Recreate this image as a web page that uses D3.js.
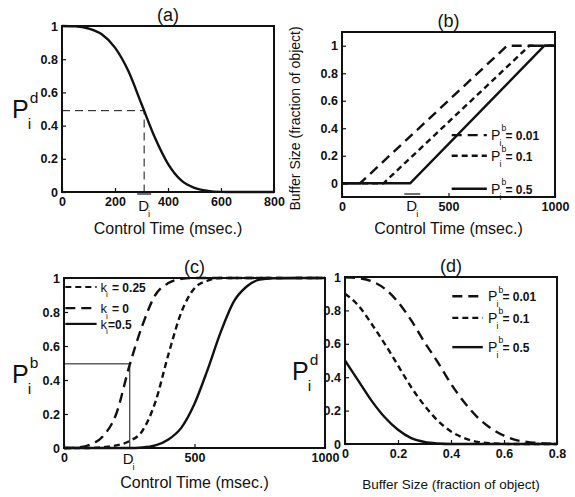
<!DOCTYPE html>
<html>
<head>
<meta charset="utf-8">
<script src="https://cdn.jsdelivr.net/npm/d3@7"></script>
<style>
  body { margin: 0; background: #fff; }
  text { font-family: "Liberation Sans", Arial, sans-serif; fill: #111; }
</style>
</head>
<body>
<div id="fig"></div>
<script>
// ---- data ----
// (a) decay probability vs control time
var aTime = [0, 50, 100, 150, 200, 250, 300, 350, 400, 450, 500, 550, 600, 650, 700, 800];
var aPd   = [1, 0.998, 0.985, 0.95, 0.87, 0.73, 0.53, 0.33, 0.17, 0.07, 0.025, 0.007, 0.001, 0, 0, 0];
var aD = 310, aHalf = 0.49;

// (b) buffer size vs control time
var bTimeLong  = [0, 85, 775, 1000];
var bTimeShort = [0, 195, 880, 1000];
var bTimeSolid = [0, 320, 950, 1000];
var bBuf = [0, 0, 1, 1];
var bLabels = ["0.01", "0.1", "0.5"];
var bD = 330;

// (c) P_i^b vs control time for k_i
var cTime = [0, 50, 100, 150, 200, 250, 300, 350, 400, 450, 500, 550, 600, 650, 700, 750, 800, 900, 1000];
var cK0   = [0, 0.003, 0.02, 0.07, 0.2, 0.48, 0.72, 0.9, 0.97, 0.995, 1, 1, 1, 1, 1, 1, 1, 1, 1];
var cK25  = [0, 0, 0, 0.005, 0.015, 0.04, 0.1, 0.27, 0.55, 0.8, 0.94, 0.985, 1, 1, 1, 1, 1, 1, 1];
var cK50  = [0, 0, 0, 0, 0, 0, 0.003, 0.015, 0.05, 0.12, 0.26, 0.46, 0.68, 0.86, 0.95, 0.99, 0.998, 1, 1];
var cLabels = ["0.25", "0", "0.5"];
var cD = 252, cHalf = 0.495;

// (d) P_i^d vs buffer size
var dBuf   = [0, 0.05, 0.1, 0.15, 0.2, 0.25, 0.3, 0.35, 0.4, 0.45, 0.5, 0.55, 0.6, 0.65, 0.7, 0.75, 0.8];
var dP001  = [0.998, 0.993, 0.975, 0.93, 0.85, 0.74, 0.61, 0.49, 0.36, 0.25, 0.16, 0.095, 0.05, 0.022, 0.01, 0.004, 0.002];
var dP01   = [0.9, 0.83, 0.72, 0.6, 0.47, 0.34, 0.23, 0.14, 0.075, 0.035, 0.013, 0.004, 0.001, 0, 0, 0, 0];
var dP05   = [0.5, 0.38, 0.26, 0.16, 0.085, 0.035, 0.012, 0.003, 0, 0, 0, 0, 0, 0, 0, 0, 0];
var dLabels = ["0.01", "0.1", "0.5"];

var LONG = "10,6", SHORT = "6,4";

var svg = d3.select("#fig").append("svg")
    .attr("width", 575)
    .attr("height", 497);

function zip(xs, ys) { return xs.map(function(v, i) { return [v, ys[i]]; }); }

// builds one framed panel with MATLAB style inward ticks
function panel(o) {
  var x = d3.scaleLinear().domain(o.xDom).range([o.left, o.right]);
  var y = d3.scaleLinear().domain(o.yDom).range([o.bottom, o.top]);
  var g = svg.append("g");

  var xa = g.append("g")
      .attr("transform", "translate(0," + o.bottom + ")")
      .call(d3.axisBottom(x).tickValues(o.xTicks).tickSize(-4).tickPadding(5).tickFormat(d3.format("")));
  var ya = g.append("g")
      .attr("transform", "translate(" + o.left + ",0)")
      .call(d3.axisLeft(y).tickValues(o.yTicks).tickSize(-4).tickPadding(4).tickFormat(d3.format("")));
  [xa, ya].forEach(function(a) {
    a.select(".domain").remove();
    a.selectAll(".tick line").attr("stroke", "#111").attr("stroke-width", 1.2);
    a.selectAll("text").style("font-size", "12.5px").style("font-weight", "bold")
      .style("font-family", "'Liberation Sans', Arial, sans-serif").attr("fill", "#111");
  });

  g.append("rect")
      .attr("x", o.left).attr("y", o.top)
      .attr("width", o.right - o.left).attr("height", o.bottom - o.top)
      .attr("fill", "none").attr("stroke", "#111").attr("stroke-width", 2);

  g.append("text")
      .attr("x", (o.left + o.right) / 2).attr("y", o.top - 5)
      .attr("text-anchor", "middle")
      .style("font-size", "18px")
      .text(o.title);

  g.append("text")
      .attr("x", (o.left + o.right) / 2).attr("y", o.xLabelY)
      .attr("text-anchor", "middle")
      .style("font-size", o.xLabelSize + "px")
      .text(o.xLabel);

  return { g: g, x: x, y: y };
}

function curve(p, pts, dash, smooth) {
  var line = d3.line()
      .x(function(d) { return p.x(d[0]); })
      .y(function(d) { return p.y(d[1]); });
  if (smooth) line.curve(d3.curveMonotoneX);
  p.g.append("path")
      .datum(pts)
      .attr("d", line)
      .attr("fill", "none")
      .attr("stroke", "#111")
      .attr("stroke-width", 2.4)
      .attr("stroke-dasharray", dash);
}

// "P" with stacked superscript and subscript
function symbol(g, x, y, base, sup, sub, size) {
  var t = g.append("text").attr("x", x).attr("y", y).style("font-size", size + "px").text(base);
  var w = t.node().getComputedTextLength();
  var s = size * 0.62;
  if (sup) g.append("text").attr("x", x + w + 1).attr("y", y - size * 0.62).style("font-size", s + "px").text(sup);
  if (sub) g.append("text").attr("x", x + w - 1).attr("y", y + size * 0.42).style("font-size", s + "px").text(sub);
  return x + w;
}

// ---- (a) ----
var pa = panel({ left: 62, right: 274, top: 26, bottom: 192, xDom: [0, 800], yDom: [0, 1],
  xTicks: [0, 200, 400, 600, 800], yTicks: [0, 0.2, 0.4, 0.6, 0.8, 1],
  title: "(a)", xLabel: "Control Time (msec.)", xLabelY: 234, xLabelSize: 16 });
pa.g.append("path")
    .attr("d", d3.line()([[pa.x(0), pa.y(aHalf)], [pa.x(aD), pa.y(aHalf)], [pa.x(aD), pa.y(0) + 4]]))
    .attr("fill", "none").attr("stroke", "#111").attr("stroke-width", 1).attr("stroke-dasharray", "8,5");
curve(pa, zip(aTime, aPd), null, true);
symbol(pa.g, 12, 118, "P", "d", "i", 25);
pa.g.append("line").attr("x1", pa.x(aD) - 7).attr("x2", pa.x(aD) + 7)
    .attr("y1", 194).attr("y2", 194).attr("stroke", "#111").attr("stroke-width", 1.2);
symbol(pa.g, pa.x(aD) - 6, 211, "D", null, "i", 15);

// ---- (b) ----
var pb = panel({ left: 342, right: 555, top: 32, bottom: 197, xDom: [0, 1000], yDom: [-0.1, 1.1],
  xTicks: [0, 500, 1000], yTicks: [0, 0.2, 0.4, 0.6, 0.8, 1],
  title: "(b)", xLabel: "Control Time (msec.)", xLabelY: 234, xLabelSize: 16 });
curve(pb, zip(bTimeLong, bBuf), LONG, false);
curve(pb, zip(bTimeShort, bBuf), SHORT, false);
curve(pb, zip(bTimeSolid, bBuf), null, false);
pb.g.append("text")
    .attr("transform", "translate(300," + ((32 + 197) / 2 + 4) + ") rotate(-90)")
    .attr("text-anchor", "middle")
    .style("font-size", "14px")
    .text("Buffer Size (fraction of object)");
pb.g.append("line").attr("x1", pb.x(bD) - 8).attr("x2", pb.x(bD) + 8)
    .attr("y1", 194).attr("y2", 194).attr("stroke", "#111").attr("stroke-width", 1.2);
symbol(pb.g, pb.x(bD) - 6, 211, "D", null, "i", 15);
var bRows = [0.35, 0.2, -0.04], bDash = [LONG, SHORT, null];
bRows.forEach(function(r, i) {
  pb.g.append("line")
      .attr("x1", pb.x(515)).attr("x2", pb.x(680))
      .attr("y1", pb.y(r)).attr("y2", pb.y(r))
      .attr("stroke", "#111").attr("stroke-width", 2.4).attr("stroke-dasharray", bDash[i]);
  var ex = symbol(pb.g, pb.x(700), pb.y(r) + 5, "P", "b", "i", 14);
  pb.g.append("text").attr("x", ex + 5).attr("y", pb.y(r) + 5)
      .style("font-size", "12px").style("font-weight", "bold").text("= " + bLabels[i]);
});

// ---- (c) ----
var pc = panel({ left: 64, right: 325, top: 278, bottom: 448, xDom: [0, 1000], yDom: [0, 1],
  xTicks: [0, 500, 1000], yTicks: [0, 0.2, 0.4, 0.6, 0.8, 1],
  title: "(c)", xLabel: "Control Time (msec.)", xLabelY: 488, xLabelSize: 16 });
pc.g.append("path")
    .attr("d", d3.line()([[pc.x(0), pc.y(cHalf)], [pc.x(cD), pc.y(cHalf)], [pc.x(cD), pc.y(0)]]))
    .attr("fill", "none").attr("stroke", "#111").attr("stroke-width", 1);
curve(pc, zip(cTime, cK0), LONG, true);
curve(pc, zip(cTime, cK25), SHORT, true);
curve(pc, zip(cTime, cK50), null, true);
symbol(pc.g, 12, 383, "P", "b", "i", 25);
symbol(pc.g, pc.x(cD) - 7, 464, "D", null, "i", 15);
var cRows = [0.947, 0.823, 0.73], cDash = [SHORT, LONG, null];
cRows.forEach(function(r, i) {
  pc.g.append("line")
      .attr("x1", pc.x(5)).attr("x2", pc.x(125))
      .attr("y1", pc.y(r)).attr("y2", pc.y(r))
      .attr("stroke", "#111").attr("stroke-width", 2.2).attr("stroke-dasharray", cDash[i]);
  var ex = symbol(pc.g, pc.x(140), pc.y(r) + 5, "k", null, "i", 13);
  pc.g.append("text").attr("x", ex + (i == 2 ? 1 : 5)).attr("y", pc.y(r) + 5)
      .style("font-size", "12px").style("font-weight", "bold").text((i == 2 ? "=" : "= ") + cLabels[i]);
});

// ---- (d) ----
var pd = panel({ left: 345, right: 557, top: 277, bottom: 444, xDom: [0, 0.8], yDom: [0, 1],
  xTicks: [0, 0.2, 0.4, 0.6, 0.8], yTicks: [0, 0.2, 0.4, 0.6, 0.8, 1],
  title: "(d)", xLabel: "Buffer Size (fraction of object)", xLabelY: 489, xLabelSize: 13.5 });
curve(pd, zip(dBuf, dP001), LONG, true);
curve(pd, zip(dBuf, dP01), SHORT, true);
curve(pd, zip(dBuf, dP05), null, true);
symbol(pd.g, 292, 380, "P", "d", "i", 25);
var dRows = [0.885, 0.755, 0.58], dDash = [LONG, SHORT, null];
dRows.forEach(function(r, i) {
  pd.g.append("line")
      .attr("x1", pd.x(0.405)).attr("x2", pd.x(0.52))
      .attr("y1", pd.y(r)).attr("y2", pd.y(r))
      .attr("stroke", "#111").attr("stroke-width", 2.4).attr("stroke-dasharray", dDash[i]);
  var ex = symbol(pd.g, pd.x(0.54), pd.y(r) + 5, "P", "b", "i", 14);
  pd.g.append("text").attr("x", ex + 5).attr("y", pd.y(r) + 5)
      .style("font-size", "12px").style("font-weight", "bold").text("= " + dLabels[i]);
});
</script>
</body>
</html>
